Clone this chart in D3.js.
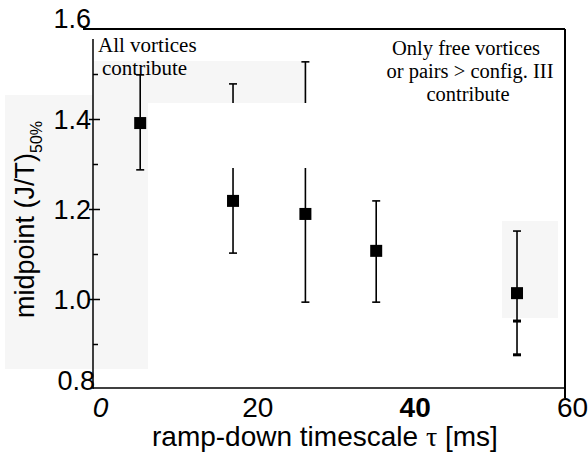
<!DOCTYPE html>
<html>
<head>
<meta charset="utf-8">
<script src="https://cdn.jsdelivr.net/npm/d3@7"></script>
<style>
  body { margin: 0; background: #fff; }
  svg { display: block; }
</style>
</head>
<body>
<svg id="chart" width="588" height="453"></svg>
<script>
// data
const tau = [6.0, 17.8, 27.0, 36.0, 53.9]
const midpoint = [1.391, 1.218, 1.189, 1.107, 1.013]
const errLow = [1.287, 1.102, 0.993, 0.993, 0.876]
const errHigh = [1.498, 1.478, 1.527, 1.218, 1.151]
const extraCap = [null, null, null, null, 0.951]

const xTicks = [0, 20, 40, 60]
const xTickLabels = ["0", "20", "40", "60"]
const yMajor = [1.6, 1.4, 1.2, 1.0, 0.8]
const yMinor = [1.5, 1.3, 1.1, 0.9]
const yTickLabels = ["1.6", "1.4", "1.2", "1.0", "0.8"]

const margin = {top: 29, right: 23, bottom: 64, left: 93}
const width = 588 - margin.left - margin.right
const height = 453 - margin.top - margin.bottom

const svg = d3.select("#chart")

// light grey scan shading behind the plot
const shade = "#f6f6f6"
svg.append("rect").attr("x", 5).attr("y", 95).attr("width", 143).attr("height", 274).attr("fill", shade)
svg.append("rect").attr("x", 93).attr("y", 61).attr("width", 214).attr("height", 42).attr("fill", shade)
svg.append("rect").attr("x", 502).attr("y", 221).attr("width", 56).attr("height", 97).attr("fill", shade)

const g = svg.append("g").attr("transform", `translate(${margin.left},${margin.top})`)

const x = d3.scaleLinear().domain([0, 60]).range([0, width])
const y = d3.scaleLinear().domain([0.8, 1.6]).range([height, 0])

const data = tau.map((t, i) => ({
    t: t, v: midpoint[i], lo: errLow[i], hi: errHigh[i], cap2: extraCap[i]
}))

// frame
g.append("line").attr("x1", -10).attr("x2", width).attr("y1", 0).attr("y2", 0)
    .attr("stroke", "#000").attr("stroke-width", 2)
g.append("line").attr("x1", width).attr("x2", width).attr("y1", 0).attr("y2", height + 9)
    .attr("stroke", "#000").attr("stroke-width", 2)
g.append("line").attr("x1", 0).attr("x2", width).attr("y1", height - 1).attr("y2", height - 1)
    .attr("stroke", "#000").attr("stroke-width", 1.5)

// y axis
const yAxis = g.append("g")
    .call(d3.axisLeft(y).tickValues(yMajor).tickSizeInner(-7).tickSizeOuter(0).tickPadding(3)
        .tickFormat((d, i) => yTickLabels[i]))
yAxis.select(".domain").remove()
yAxis.selectAll(".tick line").attr("x1", -4).attr("stroke", "#000").attr("stroke-width", 1.5)
    .filter(d => d === 1.6 || d === 0.8).remove()
yAxis.selectAll(".tick text")
    .attr("font-family", "'Liberation Sans', Arial, sans-serif")
    .attr("font-size", 27).attr("fill", "#000")
    .attr("dy", d => (d === 1.6 ? "-0.04em" : d === 0.8 ? "0.02em" : "0.36em"))
    .attr("x", d => (d === 0.8 ? 2 : -2))

const yMinorAxis = g.append("g")
    .call(d3.axisLeft(y).tickValues(yMinor).tickSizeInner(-5).tickSizeOuter(0).tickFormat(""))
yMinorAxis.select(".domain").remove()
yMinorAxis.selectAll(".tick line").attr("stroke", "#000").attr("stroke-width", 1.5)

g.append("line").attr("x1", 0).attr("x2", 0).attr("y1", 10).attr("y2", height)
    .attr("stroke", "#000").attr("stroke-width", 1.5)

// x axis labels only
const xAxis = g.append("g").attr("transform", `translate(0,${height})`)
    .call(d3.axisBottom(x).tickValues(xTicks).tickSize(0).tickPadding(0)
        .tickFormat((d, i) => xTickLabels[i]))
xAxis.select(".domain").remove()
xAxis.selectAll(".tick text")
    .attr("font-family", "'Liberation Sans', Arial, sans-serif")
    .attr("font-size", 28).attr("fill", "#000")
    .attr("dy", 0).attr("y", 28).attr("dx", 7)
    .attr("font-style", d => (d === 0 ? "italic" : null))
    .attr("font-weight", d => (d === 40 ? "bold" : null))

// error bars
const bars = g.append("g").selectAll("g").data(data).join("g")
bars.append("line")
    .attr("x1", d => x(d.t)).attr("x2", d => x(d.t))
    .attr("y1", d => y(d.lo)).attr("y2", d => y(d.hi))
    .attr("stroke", "#000").attr("stroke-width", 1.6)
bars.append("line")
    .attr("x1", d => x(d.t) - 4).attr("x2", d => x(d.t) + 4)
    .attr("y1", d => y(d.hi)).attr("y2", d => y(d.hi))
    .attr("stroke", "#000").attr("stroke-width", 1.6)
bars.append("line")
    .attr("x1", d => x(d.t) - 4).attr("x2", d => x(d.t) + 4)
    .attr("y1", d => y(d.lo)).attr("y2", d => y(d.lo))
    .attr("stroke", "#000").attr("stroke-width", d => (d.cap2 ? 3 : 1.6))
bars.filter(d => d.cap2).append("line")
    .attr("x1", d => x(d.t) - 4).attr("x2", d => x(d.t) + 4)
    .attr("y1", d => y(d.cap2)).attr("y2", d => y(d.cap2))
    .attr("stroke", "#000").attr("stroke-width", 3)

// white scan patch that cuts the upper bars
svg.append("rect").attr("x", 149).attr("y", 103).attr("width", 170).attr("height", 65).attr("fill", "#fff")

// markers
g.append("g").selectAll("rect").data(data).join("rect")
    .attr("x", d => x(d.t) - 6).attr("y", d => y(d.v) - 6)
    .attr("width", 12).attr("height", 12).attr("fill", "#000")

// annotations
const serif = "'Liberation Serif', 'Times New Roman', serif"
g.append("text").attr("x", 5).attr("y", 23).attr("font-family", serif).attr("font-size", 21)
    .text("All vortices")
g.append("text").attr("x", 9).attr("y", 46).attr("font-family", serif).attr("font-size", 21)
    .text("contribute")
const right = [["Only free vortices", 26], ["or pairs > config. III", 49], ["contribute", 72]]
g.selectAll(".rnote").data(right).join("text")
    .attr("class", "rnote")
    .attr("x", (d, i) => [373, 377, 375][i]).attr("y", d => d[1])
    .attr("text-anchor", "middle").attr("font-family", serif).attr("font-size", 20.5)
    .text(d => d[0])

// axis titles
const sans = "'Liberation Sans', Arial, sans-serif"
const xt = svg.append("text").attr("x", 152).attr("y", 446)
    .attr("font-family", sans).attr("font-size", 28).attr("fill", "#000")
xt.append("tspan").text("ramp-down timescale ")
xt.append("tspan").attr("font-family", serif).text("τ")
xt.append("tspan").text(" [ms]")

const yt = svg.append("text").attr("transform", "translate(34,318) rotate(-90)")
    .attr("font-family", sans).attr("font-size", 27).attr("fill", "#000")
yt.append("tspan").text("midpoint (J/T)")
yt.append("tspan").attr("font-size", 16).attr("dy", 8).text("50%")
</script>
</body>
</html>
